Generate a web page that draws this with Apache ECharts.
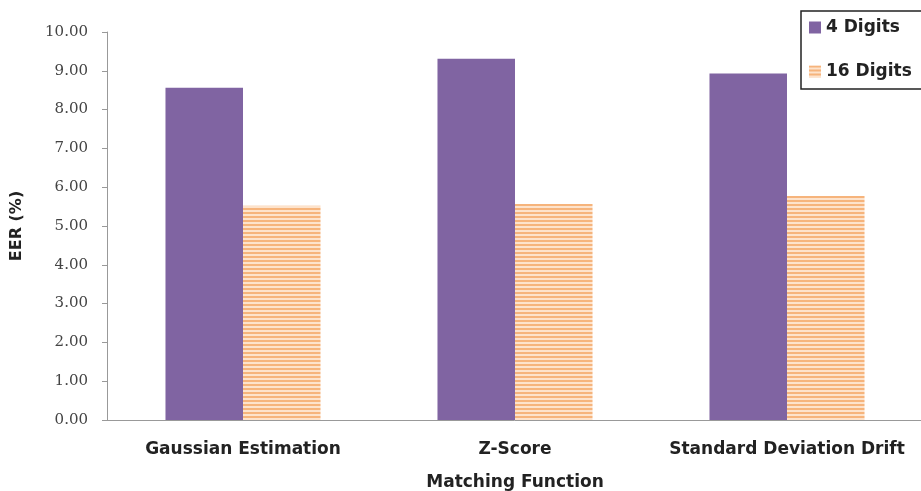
<!DOCTYPE html>
<html lang="en">
<head>
  <meta charset="UTF-8">
  <title>EER by Matching Function</title>
  <script src="https://cdn.jsdelivr.net/npm/echarts/dist/echarts.min.js"></script>
  <style>body{margin:0;background:#fff}</style>
</head>
<body>
  <div id="chart" style="width: 921px; height: 491px;"></div>
<script>
const categories = ['Gaussian Estimation', 'Z-Score', 'Standard Deviation Drift'];
const digits4 = [8.56, 9.31, 8.93];
const digits16 = [5.52, 5.57, 5.77];
const yTicks = [0, 10, 1];  // min, max, step

function stripes() {
  let c = document.createElement('canvas');
  c.width = 8; c.height = 4;
  let g = c.getContext('2d');
  g.fillStyle = '#fde3cc'; g.fillRect(0, 0, 8, 4);
  g.fillStyle = '#f6b47c'; g.fillRect(0, 0, 8, 2);
  return c;
}

let bold = 'DejaVu Sans';
let chart = echarts.init(document.getElementById('chart'));
chart.setOption({
  animation: false,
  textStyle: { fontFamily: bold },
  legend: {
    orient: 'vertical',
    left: 801, top: 11,
    icon: 'rect',
    itemWidth: 12, itemHeight: 12,
    itemGap: 27,
    padding: [8, 10, 9, 8],
    borderColor: '#222', borderWidth: 1.5,
    textStyle: { fontWeight: 'bold', fontSize: 17, color: '#222' },
    data: ['4 Digits', '16 Digits']
  },
  grid: { left: 107, right: -2, top: 32, bottom: 71, outerBoundsMode: 'none', containLabel: false },
  xAxis: {
    type: 'category',
    data: categories,
    name: 'Matching Function',
    nameLocation: 'middle',
    nameGap: 54,
    nameTextStyle: { fontWeight: 'bold', fontSize: 17, color: '#222' },
    axisLine: { lineStyle: { color: '#999' } },
    axisTick: { show: false },
    axisLabel: { interval: 0, hideOverlap: false, fontWeight: 'bold', fontSize: 17, color: '#222', margin: 21 }
  },
  yAxis: {
    type: 'value',
    min: yTicks[0], max: yTicks[1], interval: yTicks[2],
    name: 'EER (%)',
    nameLocation: 'middle',
    nameGap: 82,
    nameTextStyle: { fontWeight: 'bold', fontSize: 16, color: '#222' },
    axisLine: { show: true, lineStyle: { color: '#999' } },
    axisTick: { show: true, length: 5, lineStyle: { color: '#999' } },
    splitLine: { show: false },
    axisLabel: { fontSize: 15, color: '#444', margin: 19, fontFamily: 'DejaVu Serif',
      formatter: v => v.toFixed(2) }
  },
  series: [
    { name: '4 Digits', type: 'bar', data: digits4, barGap: 0, barCategoryGap: '43%',
      itemStyle: { color: '#8064a2' } },
    { name: '16 Digits', type: 'bar', data: digits16,
      itemStyle: { color: { image: stripes(), repeat: 'repeat' } } }
  ]
});
</script>
</body>
</html>
